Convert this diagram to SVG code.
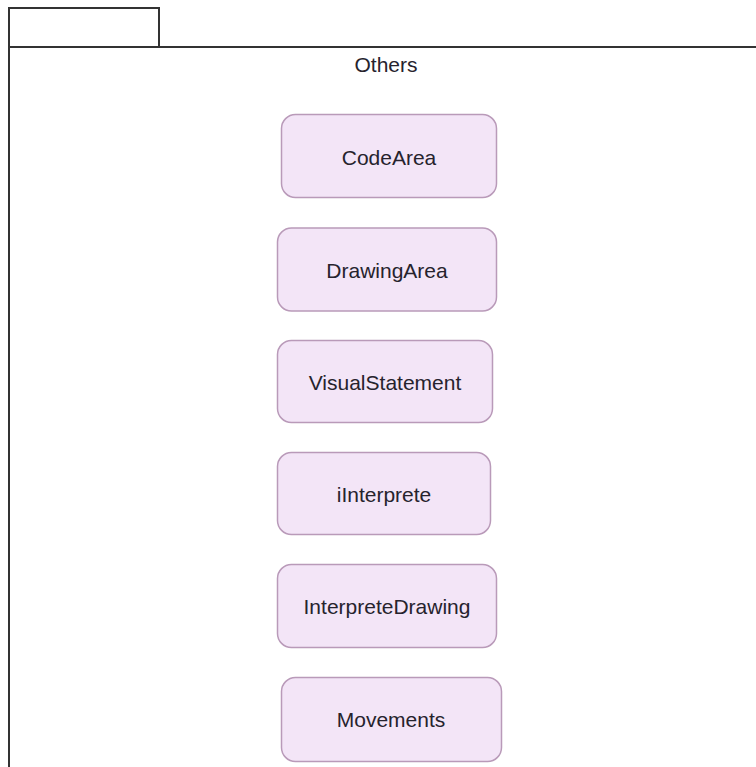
<svg xmlns="http://www.w3.org/2000/svg" width="756" height="767" viewBox="0 0 756 767">
  <style>
    .frame { fill: none; stroke: #333333; stroke-width: 2; }
    .node rect { fill: #f3e5f7; stroke: #b99ab9; stroke-width: 1.5; }
    .label { font-family: "Liberation Sans", Arial, sans-serif; font-size: 21px; fill: #26232d; text-anchor: middle; }
  </style>
  <rect width="756" height="767" fill="#ffffff"/>

  <!-- package frame: tab and body -->
  <g id="package">
    <rect class="frame" x="9" y="8" width="150" height="39"/>
    <path class="frame" d="M9 47 H756 M9 47 V767"/>
    <text class="label" x="386" y="72">Others</text>
  </g>

  <g id="connectors"></g>

  <g id="CodeArea" class="node">
    <rect x="281.5" y="114.5" width="215" height="83" rx="14"/>
    <text class="label" x="389" y="165">CodeArea</text>
  </g>
  <g id="DrawingArea" class="node">
    <rect x="277.5" y="228" width="219" height="83" rx="14"/>
    <text class="label" x="387" y="278">DrawingArea</text>
  </g>
  <g id="VisualStatement" class="node">
    <rect x="277.5" y="340.5" width="215" height="82" rx="14"/>
    <text class="label" x="385" y="390">VisualStatement</text>
  </g>
  <g id="iInterprete" class="node">
    <rect x="277.5" y="452.5" width="213" height="82" rx="14"/>
    <text class="label" x="384" y="502">iInterprete</text>
  </g>
  <g id="InterpreteDrawing" class="node">
    <rect x="277.5" y="564.5" width="219" height="83" rx="14"/>
    <text class="label" x="387" y="614">InterpreteDrawing</text>
  </g>
  <g id="Movements" class="node">
    <rect x="281.5" y="677.5" width="220" height="84" rx="14"/>
    <text class="label" x="391" y="727">Movements</text>
  </g>
</svg>
